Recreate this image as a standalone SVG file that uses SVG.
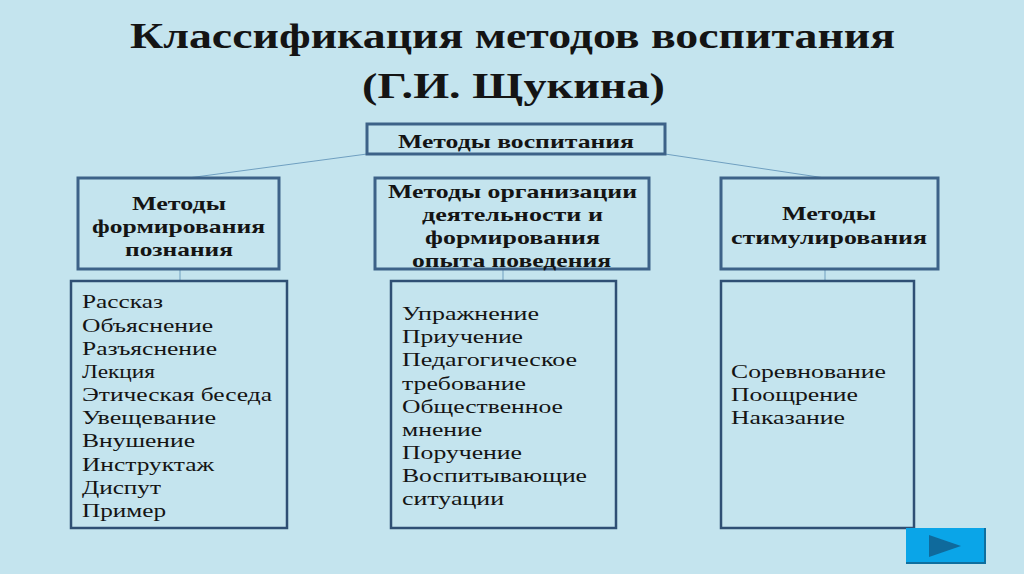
<svg xmlns="http://www.w3.org/2000/svg" width="1024" height="574" viewBox="0 0 1024 574">
<style>
text{font-family:"Liberation Serif","DejaVu Serif",serif;fill:#141414;}
.t{font-weight:bold;font-size:35px;}
.h{font-weight:bold;font-size:19px;}
.i{font-size:19px;}
.b{fill:none;stroke:#3d6288;stroke-width:3;}
.l{fill:none;stroke:#2f4f74;stroke-width:2.5;}
.c{fill:none;stroke:#6f9fc0;stroke-width:1;}
</style>
<rect width="1024" height="574" fill="#c4e4ee"/>
<g id="title"><text class="t" x="130" y="48" textLength="765" lengthAdjust="spacingAndGlyphs">Классификация методов воспитания</text><text class="t" x="362" y="98" textLength="303" lengthAdjust="spacingAndGlyphs">(Г.И. Щукина)</text></g>
<g id="connectors">
<path class="c" d="M367 154L188 178M665 154L825 178M180 269V281M503 269V281M825 269V281"/>
</g>
<g id="root"><rect class="b" x="367" y="124" width="298" height="30"/><text class="h" x="398" y="148" textLength="236" lengthAdjust="spacingAndGlyphs">Методы воспитания</text></g>
<g id="m1"><rect class="b" x="78" y="178" width="201" height="91"/><text class="h" x="132" y="210" textLength="94" lengthAdjust="spacingAndGlyphs">Методы</text><text class="h" x="92" y="233" textLength="173" lengthAdjust="spacingAndGlyphs">формирования</text><text class="h" x="125" y="256" textLength="108" lengthAdjust="spacingAndGlyphs">познания</text></g>
<g id="m2"><rect class="b" x="375" y="178" width="274" height="91"/><text class="h" x="388" y="198" textLength="249" lengthAdjust="spacingAndGlyphs">Методы организации</text><text class="h" x="422" y="221" textLength="181" lengthAdjust="spacingAndGlyphs">деятельности и</text><text class="h" x="425" y="244" textLength="175" lengthAdjust="spacingAndGlyphs">формирования</text><text class="h" x="412" y="267" textLength="199" lengthAdjust="spacingAndGlyphs">опыта поведения</text></g>
<g id="m3"><rect class="b" x="721" y="178" width="217" height="91"/><text class="h" x="782" y="220" textLength="94" lengthAdjust="spacingAndGlyphs">Методы</text><text class="h" x="731" y="244" textLength="196" lengthAdjust="spacingAndGlyphs">стимулирования</text></g>
<g id="l1"><rect class="l" x="71" y="281" width="216" height="247"/>
<text class="i" x="82" y="308" textLength="81" lengthAdjust="spacingAndGlyphs">Рассказ</text><text class="i" x="82" y="332" textLength="131" lengthAdjust="spacingAndGlyphs">Объяснение</text><text class="i" x="82" y="355" textLength="135" lengthAdjust="spacingAndGlyphs">Разъяснение</text><text class="i" x="82" y="378" textLength="73" lengthAdjust="spacingAndGlyphs">Лекция</text><text class="i" x="82" y="401" textLength="190" lengthAdjust="spacingAndGlyphs">Этическая беседа</text><text class="i" x="82" y="424" textLength="134" lengthAdjust="spacingAndGlyphs">Увещевание</text><text class="i" x="82" y="447" textLength="113" lengthAdjust="spacingAndGlyphs">Внушение</text><text class="i" x="82" y="471" textLength="132" lengthAdjust="spacingAndGlyphs">Инструктаж</text><text class="i" x="82" y="494" textLength="79" lengthAdjust="spacingAndGlyphs">Диспут</text><text class="i" x="82" y="517" textLength="84" lengthAdjust="spacingAndGlyphs">Пример</text></g>
<g id="l2"><rect class="l" x="391" y="281" width="225" height="247"/>
<text class="i" x="402" y="320" textLength="137" lengthAdjust="spacingAndGlyphs">Упражнение</text><text class="i" x="402" y="343" textLength="121" lengthAdjust="spacingAndGlyphs">Приучение</text><text class="i" x="402" y="366" textLength="175" lengthAdjust="spacingAndGlyphs">Педагогическое</text><text class="i" x="402" y="390" textLength="124" lengthAdjust="spacingAndGlyphs">требование</text><text class="i" x="402" y="413" textLength="161" lengthAdjust="spacingAndGlyphs">Общественное</text><text class="i" x="402" y="436" textLength="80" lengthAdjust="spacingAndGlyphs">мнение</text><text class="i" x="402" y="459" textLength="120" lengthAdjust="spacingAndGlyphs">Поручение</text><text class="i" x="402" y="482" textLength="185" lengthAdjust="spacingAndGlyphs">Воспитывающие</text><text class="i" x="402" y="505" textLength="102" lengthAdjust="spacingAndGlyphs">ситуации</text></g>
<g id="l3"><rect class="l" x="721" y="281" width="193" height="247"/>
<text class="i" x="731" y="378" textLength="155" lengthAdjust="spacingAndGlyphs">Соревнование</text><text class="i" x="731" y="401" textLength="127" lengthAdjust="spacingAndGlyphs">Поощрение</text><text class="i" x="731" y="424" textLength="114" lengthAdjust="spacingAndGlyphs">Наказание</text></g>
<g id="next"><rect x="906" y="528" width="79" height="35" fill="#0aa5e8"/><path d="M985 528V563H906" fill="none" stroke="#0f6f9f" stroke-width="2"/><polygon points="929,535 929,557 961,546" fill="#0f6a9c"/></g>
</svg>
